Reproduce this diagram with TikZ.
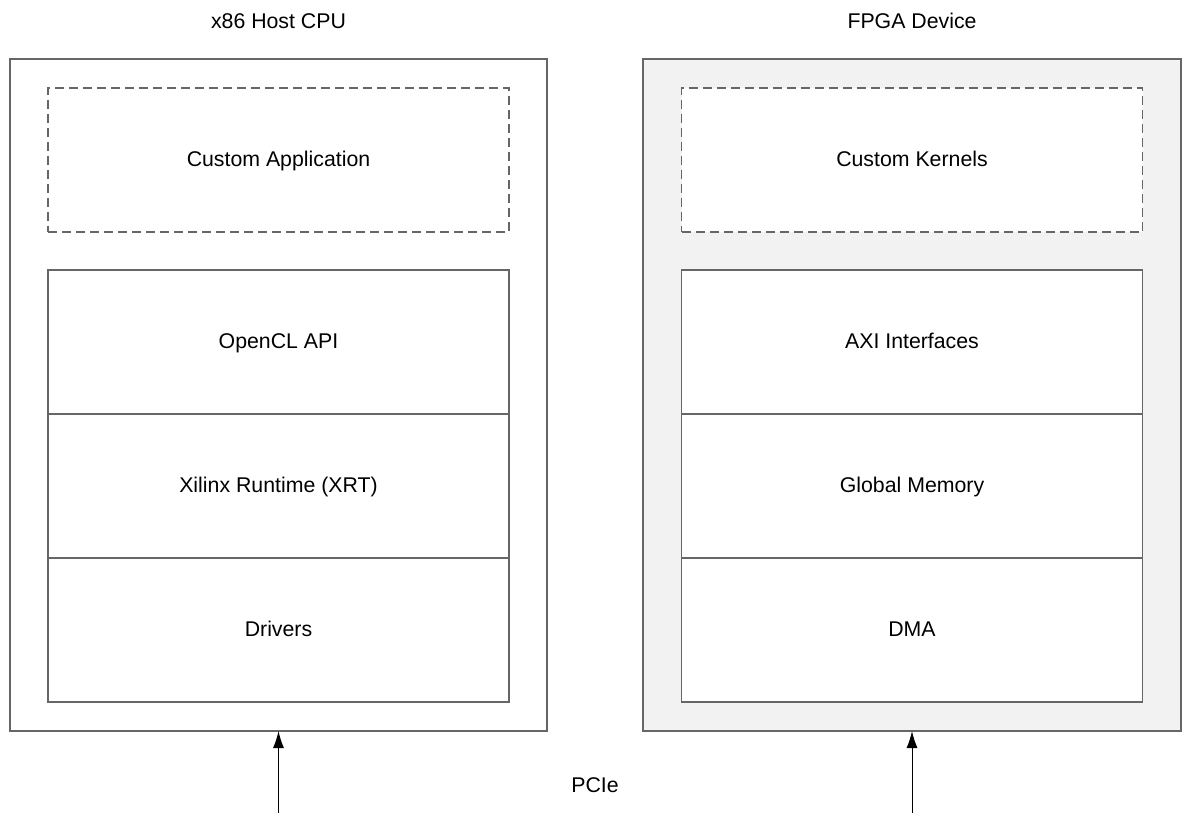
\documentclass[tikz,border=0pt]{standalone}
\usepackage{fontspec}
\setmainfont{Liberation Sans}
\usetikzlibrary{arrows.meta}
\definecolor{edgegray}{HTML}{666666}
\definecolor{fpgafill}{HTML}{F2F2F2}
\begin{document}
\begin{tikzpicture}[x=1pt,y=-1pt,
  every node/.style={font=\fontsize{21.3}{25}\selectfont, inner sep=0pt, outer sep=0pt, text height=16.5pt, text depth=3.5pt},
  outerbox/.style={draw=edgegray, line width=1.4pt, minimum width=#1, minimum height=672pt},
  layerbox/.style={draw=edgegray, line width=1.4pt, fill=white, minimum width=461pt, minimum height=144pt},
  dashbox/.style={draw=edgegray, line width=1.4pt, fill=white, dash pattern=on 9pt off 5pt, minimum width=461pt, minimum height=144pt},
  title/.style={text=black},
  pciearrow/.style={draw=black, line width=1pt, -{Latex[length=17pt,width=11pt]}}
]
\useasboundingbox (0,0) rectangle (1182,813);
% outer boxes
\node[outerbox=537pt, fill=white] (host) at (278.5,395) {};
\node[outerbox=538pt, fill=fpgafill] (fpga) at (912,395) {};
% titles
\node[title] (hosttitle) at (278.5,22) {x86 Host CPU};
\node[title] (fpgatitle) at (912,22) {FPGA Device};
% host layers
\node[dashbox] (app) at (278.5,160) {Custom Application};
\node[layerbox] (ocl) at (278.5,342) {OpenCL API};
\node[layerbox] (xrt) at (278.5,486) {Xilinx Runtime (XRT)};
\node[layerbox] (drv) at (278.5,630) {Drivers};
% fpga layers
\node[dashbox] (kern) at (912,160) {Custom Kernels};
\node[layerbox] (axi) at (912,342) {AXI Interfaces};
\node[layerbox] (gmem) at (912,486) {Global Memory};
\node[layerbox] (dma) at (912,630) {DMA};
% PCIe
\node (pcie) at (595,786) {PCIe};
\coordinate (hostin) at (278.5,813);
\coordinate (fpgain) at (912,813);
\draw[pciearrow] (hostin) -- (host.south);
\draw[pciearrow] (fpgain) -- (fpga.south);
\end{tikzpicture}
\end{document}
